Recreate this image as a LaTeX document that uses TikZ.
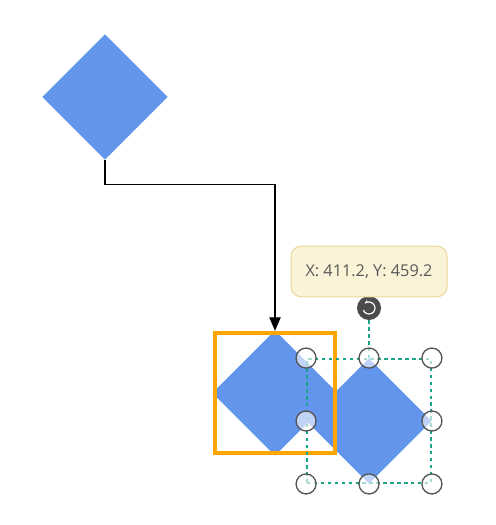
\documentclass[tikz,border=0pt]{standalone}
\usepackage{fontspec}
\setmainfont{Open Sans}
\usetikzlibrary{shapes.geometric, arrows.meta}
\definecolor{shapeblue}{HTML}{6495ED}
\definecolor{framecolor}{HTML}{FFA500}
\definecolor{guidegreen}{HTML}{1AA58B}
\definecolor{ringgray}{HTML}{555555}
\definecolor{tipfill}{HTML}{FBF3D7}
\definecolor{tipdraw}{HTML}{EBD698}

\begin{document}
\begin{tikzpicture}[
    x=0.75pt, y=-0.75pt,
    arrow/.style={-{Triangle[length=10pt, width=8.5pt]}, line width=0.8pt, color=black},
]

% --- Style definitions ---
\tikzset{
    shapebox/.style = {diamond, fill=shapeblue, aspect=1, inner sep=0pt, minimum size=94pt},
    framebox/.style = {draw=framecolor, line width=3.4pt, inner sep=0pt, minimum size=90pt},
    selectbox/.style = {draw=guidegreen, line width=1.4pt, dash pattern=on 2.6pt off 2.6pt,
        inner sep=0pt, minimum size=93pt},
    guide/.style = {draw=guidegreen, line width=1.4pt, dash pattern=on 2.6pt off 2.6pt},
    handle/.style = {circle, draw=ringgray, line width=1pt, fill=white, fill opacity=0.6,
        draw opacity=1, inner sep=0pt, minimum size=15pt},
    rotator/.style = {circle, fill=ringgray!90!black, inner sep=0pt, minimum size=18pt},
    tooltip/.style = {draw=tipdraw, fill=tipfill, rounded corners=7.5pt, line width=0.75pt,
        minimum width=117pt, minimum height=38pt, inner sep=0pt,
        font=\fontsize{12.2}{14}\selectfont, text=black!65},
}

\useasboundingbox (0,0) rectangle (496,525);

% --- Shapes ---
\node (source) [shapebox] at (105,97) {};
\node (target) [shapebox] at (275,393) {};
\node (copy) [shapebox] at (369,421) {};
\node (frame) [framebox] at (275,393) {};

% --- Connector ---
\draw [arrow] (source.south) -- ++(0,25) -| (frame.north);

% --- Selection ---
\node (select) [selectbox] at (369,421) {};
\node (rotate) [rotator] at (369,308) {};
\node (tip) [tooltip] at (369,271.5) {X: 411.2, Y: 459.2};
\draw [guide] (rotate.south) -- (select.north);
\foreach \a in {north west, north, north east, west, east, south west, south, south east}
    \node (handle \a) [handle] at (select.\a) {};

% --- Rotate glyph ---
\draw [white, line width=0.9pt, -{Stealth[length=3pt]}]
    ([shift={(-200:6)}]rotate.center) arc[start angle=-200, end angle=-495, radius=6];

\end{tikzpicture}
\end{document}
